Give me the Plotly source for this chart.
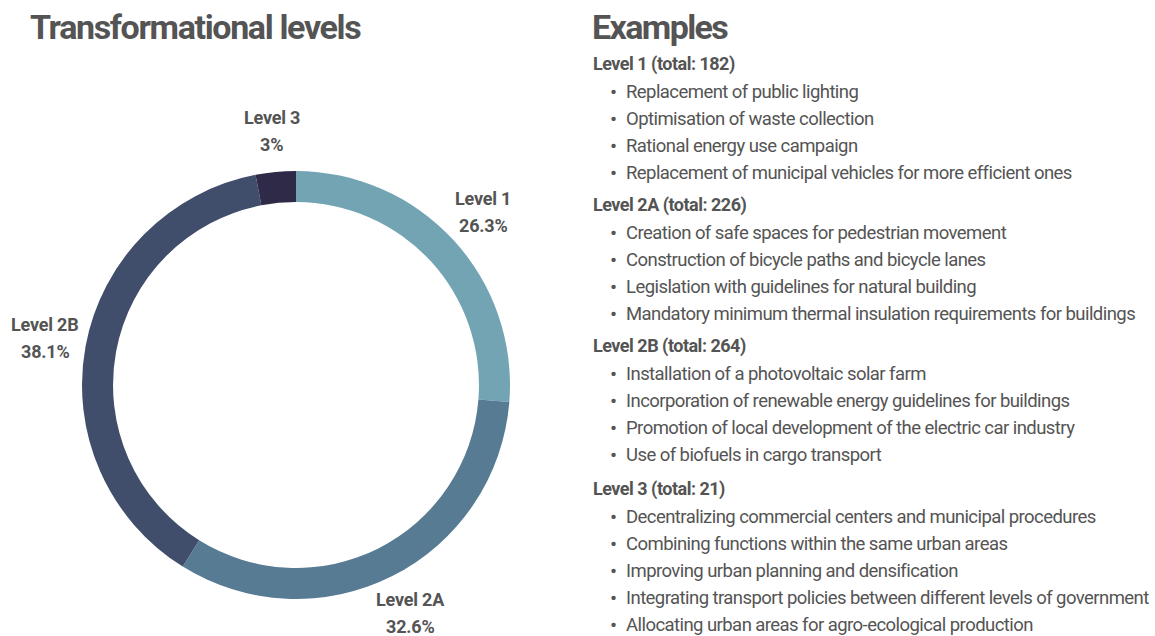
import math
import plotly.graph_objects as go

# Number of measures per transformational level
levels = ["Level 1", "Level 2A", "Level 2B", "Level 3"]
totals = [182, 226, 264, 21]
colors = ["#72A4B4", "#587B94", "#414E6B", "#2E2A48"]

examples_l1 = [
    "Replacement of public lighting",
    "Optimisation of waste collection",
    "Rational energy use campaign",
    "Replacement of municipal vehicles for more efficient ones",
]
examples_l2a = [
    "Creation of safe spaces for pedestrian movement",
    "Construction of bicycle paths and bicycle lanes",
    "Legislation with guidelines for natural building",
    "Mandatory minimum thermal insulation requirements for buildings",
]
examples_l2b = [
    "Installation of a photovoltaic solar farm",
    "Incorporation of renewable energy guidelines for buildings",
    "Promotion of local development of the electric car industry",
    "Use of biofuels in cargo transport",
]
examples_l3 = [
    "Decentralizing commercial centers and municipal procedures",
    "Combining functions within the same urban areas",
    "Improving urban planning and densification",
    "Integrating transport policies between different levels of government",
    "Allocating urban areas for agro-ecological production",
]
examples = [examples_l1, examples_l2a, examples_l2b, examples_l3]

W, H = 1155, 636
TEXT = "#545454"
FONT = "Roboto"


def tight(s, ls):
    return f'<span style="letter-spacing:{ls}px">{s}</span>'


# Donut geometry (pixels)
cx, cy, R = 296, 385, 214
dom_x = [(cx - R) / W, (cx + R) / W]
dom_y = [(H - cy - R) / H, (H - cy + R) / H]

fig = go.Figure(
    go.Pie(
        labels=levels,
        values=totals,
        sort=False,
        direction="clockwise",
        rotation=0,
        hole=0.855,
        marker=dict(colors=colors, line=dict(color="white", width=0)),
        textinfo="none",
        hoverinfo="label+value+percent",
        domain=dict(x=dom_x, y=dom_y),
        showlegend=False,
    )
)

annotations = []


def add_text(x, y, text, size, anchor="left", bold=False, ls=0.0):
    body = tight(text, ls) if ls else text
    if bold:
        body = f"<b>{body}</b>"
    annotations.append(dict(
        x=x / W, y=1 - y / H, xref="paper", yref="paper",
        text=body, showarrow=False,
        xanchor=anchor, yanchor="middle", align=anchor,
        font=dict(family=FONT, size=size, color=TEXT),
    ))


# Slice labels placed outside the ring at each slice's mid angle
grand = sum(totals)
cum = 0
label_r = 255
for name, v in zip(levels, totals):
    mid = (cum + v / 2) / grand * 2 * math.pi
    cum += v
    px = cx + label_r * math.sin(mid)
    py = cy - label_r * math.cos(mid)
    pct = round(v / grand * 100, 1)
    add_text(px, py - 13.5, name, 18, anchor="center", bold=True, ls=-0.2)
    add_text(px, py + 13.5, f"{pct:g}%", 18, anchor="center", bold=True, ls=-0.2)

# Titles
add_text(28, 27, "Transformational levels", 34, bold=True, ls=-1.35)
add_text(590, 27, "Examples", 34, bold=True, ls=-1.6)

# Example list on the right
header_y = [64, 205, 346, 489]
line_gap = 27
for name, v, items, hy in zip(levels, totals, examples, header_y):
    add_text(591, hy, f"{name} (total: {v})", 18, bold=True, ls=-0.5)
    for i, item in enumerate(items):
        yy = hy + 28 + i * line_gap
        add_text(608, yy, "•", 21)
        add_text(624, yy, item, 18.5, ls=-0.56)

fig.update_layout(
    width=W, height=H,
    margin=dict(l=0, r=0, t=0, b=0),
    paper_bgcolor="white", plot_bgcolor="white",
    annotations=annotations,
)

fig.write_html("out.html")
